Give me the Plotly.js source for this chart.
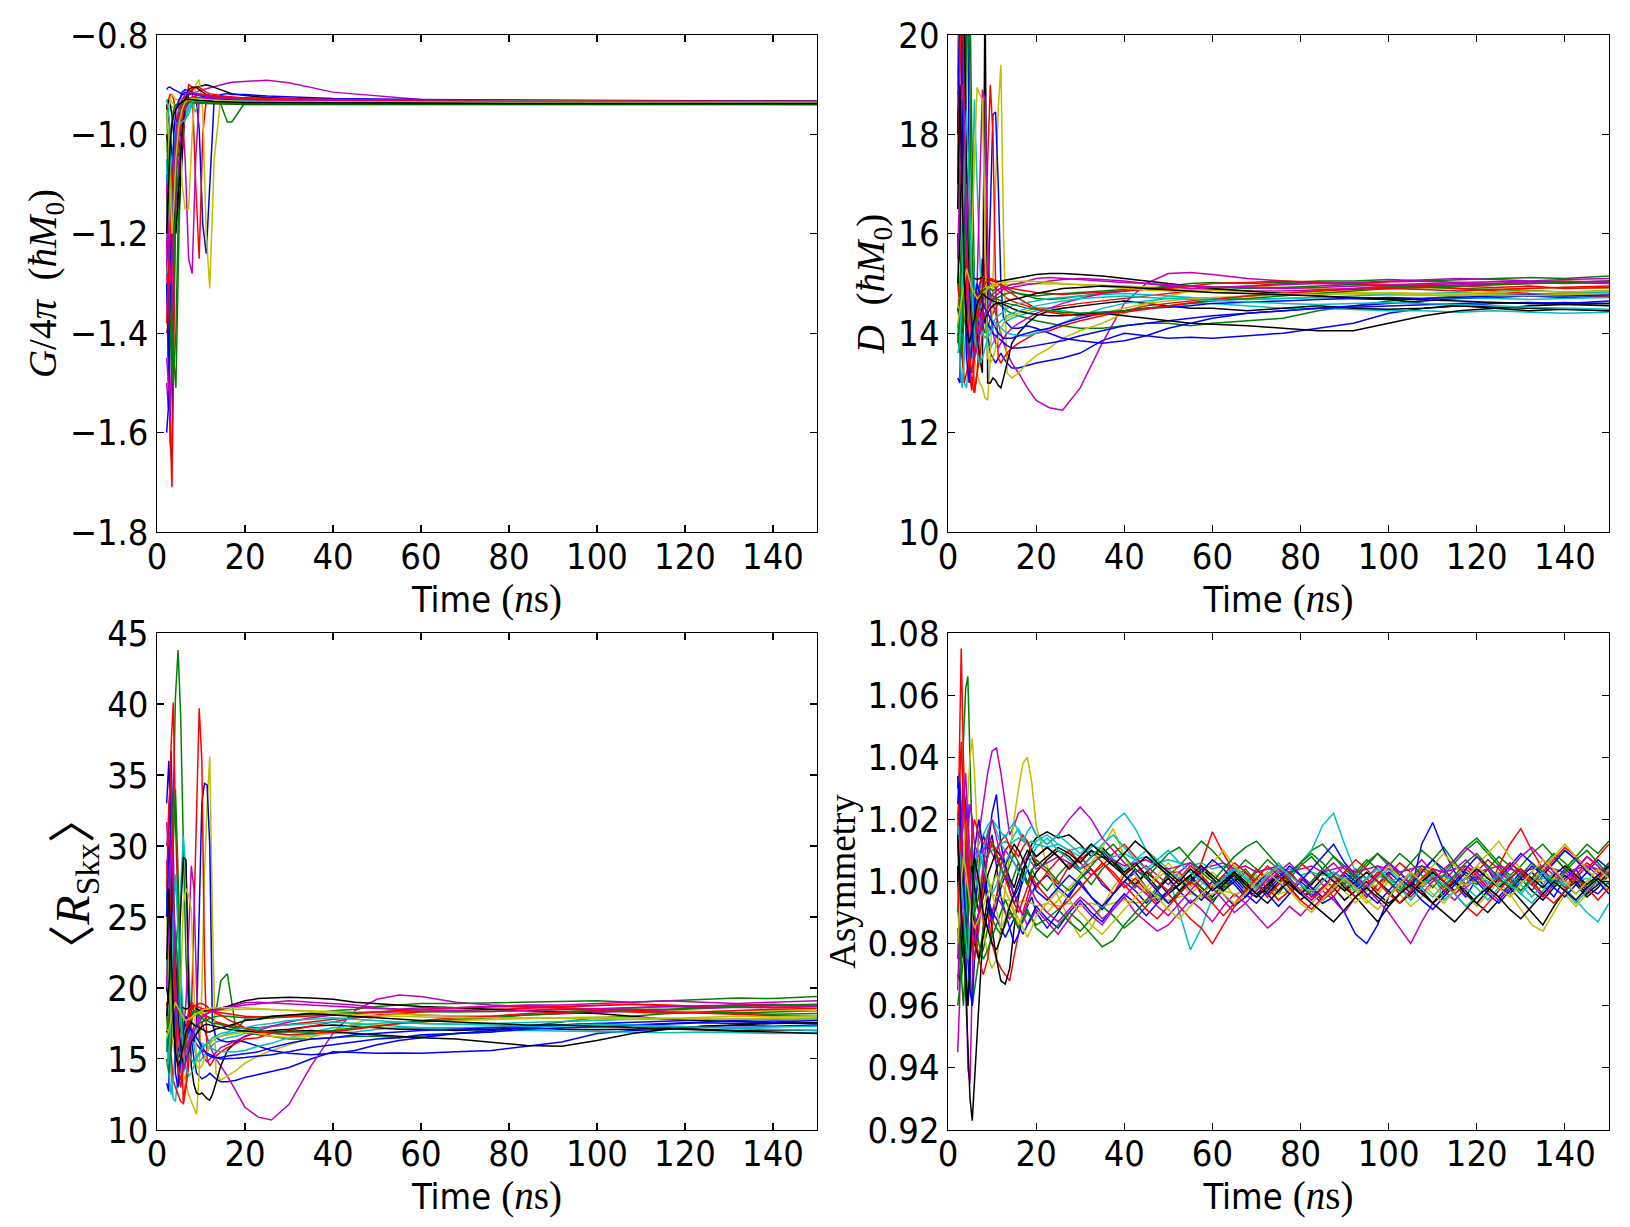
<!DOCTYPE html>
<html>
<head>
<meta charset="utf-8">
<script src="https://cdn.plot.ly/plotly-3.0.1.min.js"></script>
<style>html,body{margin:0;padding:0;background:#fff;}</style>
</head>
<body>
<div id="chart" style="width:1630px;height:1227px;"></div>
<script>
// Run colours cycle in the order b, g, r, c, m, y, k
const runColors = ['#0000ff', '#008000', '#ff0000', '#00bfbf', '#bf00bf', '#bfbf00', '#000000'];

// ---------- Panel 1: G/4pi (hbar M0) ----------
const tG = [2.2,2.6,3,3.4,3.8,4.3,5,5.7,6.4,7.2,8,8.8,9.6,10.4,11.2,12,13,14.4,16,17,20,25,30,40,60,80,100,120,150];
const G1 = [-1.08,-1.40,-1.62,-1.66,-1.30,-1.02,-0.94,-0.915,-0.91,-0.912,-0.915,-0.918,-0.92,-0.922,-0.924,-0.925,-0.926,-0.927,-0.928,-0.929,-0.93,-0.93,-0.931,-0.932,-0.933,-0.934,-0.934,-0.935,-0.935];
const G2 = [-0.95,-1.05,-1.20,-1.35,-1.45,-1.51,-1.20,-0.98,-0.94,-0.935,-0.935,-0.936,-0.936,-0.937,-0.937,-0.937,-0.938,-0.938,-0.938,-0.938,-0.938,-0.938,-0.938,-0.938,-0.937,-0.937,-0.936,-0.936,-0.937];
const G3 = [-1.25,-1.38,-1.58,-1.71,-1.45,-1.10,-0.96,-0.93,-0.925,-0.926,-0.928,-0.93,-0.93,-0.931,-0.931,-0.932,-0.932,-0.933,-0.933,-0.934,-0.934,-0.935,-0.935,-0.935,-0.936,-0.936,-0.936,-0.937,-0.937];
const G4 = [-1.05,-1.20,-1.22,-1.14,-1.05,-1.01,-0.99,-0.98,-0.96,-0.945,-0.94,-0.935,-0.932,-0.93,-0.93,-0.93,-0.93,-0.931,-0.931,-0.932,-0.932,-0.932,-0.933,-0.933,-0.934,-0.934,-0.935,-0.935,-0.936];
const G5 = [-1.20,-1.50,-1.58,-1.40,-1.15,-1.00,-0.95,-0.93,-0.925,-0.92,-0.918,-0.915,-0.912,-0.91,-0.908,-0.906,-0.903,-0.90,-0.897,-0.895,-0.893,-0.891,-0.896,-0.915,-0.93,-0.935,-0.937,-0.938,-0.94];
const G6 = [-0.93,-0.935,-0.94,-0.945,-0.945,-0.94,-0.935,-0.933,-0.932,-0.932,-0.933,-0.933,-0.934,-0.934,-0.934,-0.935,-0.935,-0.935,-0.935,-0.935,-0.936,-0.936,-0.936,-0.936,-0.936,-0.937,-0.937,-0.937,-0.937];
const G7 = [-0.94,-0.96,-1.00,-1.05,-1.08,-1.10,-1.15,-1.05,-0.95,-0.92,-0.91,-0.905,-0.903,-0.902,-0.90,-0.902,-0.906,-0.91,-0.915,-0.918,-0.922,-0.926,-0.928,-0.931,-0.933,-0.935,-0.936,-0.937,-0.938];
const G8 = [-0.91,-0.905,-0.905,-0.908,-0.91,-0.912,-0.915,-0.92,-0.92,-0.92,-0.915,-0.92,-0.99,-1.18,-1.24,-1.10,-0.93,-0.92,-0.918,-0.92,-0.92,-0.923,-0.925,-0.928,-0.93,-0.931,-0.932,-0.932,-0.933];
const G9 = [-1.00,-1.10,-1.25,-1.40,-1.48,-1.40,-1.10,-0.96,-0.94,-0.935,-0.932,-0.93,-0.93,-0.93,-0.93,-0.932,-0.935,-0.937,-0.975,-0.975,-0.936,-0.933,-0.933,-0.934,-0.935,-0.936,-0.936,-0.937,-0.937];
const G10 = [-0.95,-0.93,-0.92,-0.92,-0.93,-0.96,-1.02,-1.02,-0.96,-0.90,-0.905,-1.10,-1.25,-1.00,-0.93,-0.925,-0.925,-0.926,-0.927,-0.928,-0.929,-0.93,-0.93,-0.931,-0.932,-0.933,-0.933,-0.934,-0.934];
const G11 = [-1.28,-1.25,-1.20,-1.15,-1.10,-1.05,-1.00,-0.985,-0.97,-0.96,-0.94,-0.955,-0.93,-0.928,-0.928,-0.929,-0.93,-0.93,-0.931,-0.931,-0.932,-0.932,-0.933,-0.933,-0.934,-0.934,-0.935,-0.935,-0.935];
const G12 = [-1.50,-1.55,-1.40,-1.20,-1.10,-1.00,-0.96,-0.95,-1.05,-1.25,-1.28,-1.05,-0.93,-0.925,-0.922,-0.922,-0.924,-0.925,-0.926,-0.927,-0.928,-0.93,-0.931,-0.932,-0.933,-0.934,-0.935,-0.936,-0.936];
const G13 = [-0.93,-0.93,-0.93,-0.935,-0.94,-0.94,-0.94,-1.10,-1.15,-1.15,-1.00,-0.90,-0.89,-0.95,-1.20,-1.31,-1.05,-0.935,-0.93,-0.93,-0.931,-0.932,-0.932,-0.933,-0.934,-0.935,-0.935,-0.936,-0.936];
const G14 = [-0.95,-0.93,-0.94,-0.96,-1.00,-1.05,-1.04,-0.98,-0.95,-0.935,-0.935,-0.936,-0.937,-0.937,-0.938,-0.938,-0.938,-0.939,-0.939,-0.939,-0.94,-0.94,-0.94,-0.94,-0.94,-0.94,-0.94,-0.94,-0.94];
const G15 = [-1.60,-1.55,-1.30,-1.10,-1.02,-0.98,-0.96,-0.95,-0.93,-0.92,-0.918,-0.918,-0.919,-0.92,-0.921,-0.922,-0.923,-0.924,-0.925,-0.926,-0.927,-0.928,-0.929,-0.93,-0.931,-0.932,-0.933,-0.933,-0.934];
const G16 = [-1.15,-1.10,-1.00,-0.97,-0.95,-0.94,-0.938,-0.937,-0.936,-0.936,-0.936,-0.936,-0.937,-0.937,-0.937,-0.937,-0.937,-0.937,-0.937,-0.937,-0.937,-0.937,-0.937,-0.937,-0.937,-0.937,-0.937,-0.937,-0.937];
const G17 = [-1.40,-1.38,-1.42,-1.25,-1.15,-1.08,-1.00,-0.95,-0.93,-0.915,-0.91,-0.905,-0.905,-0.91,-0.915,-0.918,-0.92,-0.922,-0.924,-0.925,-0.927,-0.928,-0.929,-0.93,-0.931,-0.932,-0.933,-0.933,-0.934];
const G18 = [-1.20,-1.22,-1.10,-1.05,-1.02,-0.98,-0.97,-0.96,-0.95,-0.94,-0.93,-0.928,-0.927,-0.927,-0.928,-0.928,-0.929,-0.929,-0.93,-0.93,-0.931,-0.931,-0.932,-0.932,-0.933,-0.933,-0.934,-0.934,-0.935];
const G19 = [-1.45,-1.50,-1.55,-1.48,-1.30,-1.15,-1.05,-0.98,-0.95,-0.93,-0.925,-0.925,-0.926,-0.927,-0.927,-0.928,-0.928,-0.929,-0.929,-0.93,-0.93,-0.931,-0.931,-0.932,-0.933,-0.934,-0.935,-0.936,-0.937];
const G20 = [-0.98,-0.95,-0.93,-0.92,-0.925,-0.93,-0.93,-0.931,-0.931,-0.932,-0.932,-0.932,-0.933,-0.933,-0.933,-0.934,-0.934,-0.934,-0.934,-0.935,-0.935,-0.935,-0.935,-0.935,-0.935,-0.935,-0.935,-0.935,-0.935];
const G21 = [-1.00,-1.02,-1.05,-1.10,-1.15,-1.20,-1.10,-1.00,-0.93,-0.91,-0.905,-0.905,-0.91,-0.915,-0.92,-0.922,-0.925,-0.927,-0.929,-0.93,-0.932,-0.933,-0.934,-0.935,-0.936,-0.937,-0.938,-0.938,-0.939];
const G22 = [-1.30,-1.45,-1.35,-1.15,-1.00,-0.95,-0.93,-0.92,-0.915,-0.915,-0.918,-0.92,-0.922,-0.924,-0.925,-0.926,-0.927,-0.928,-0.929,-0.93,-0.931,-0.932,-0.932,-0.933,-0.934,-0.935,-0.935,-0.936,-0.936];
const G23 = [-1.12,-1.25,-1.40,-1.50,-1.30,-1.10,-0.97,-0.94,-0.935,-0.935,-0.936,-0.936,-0.937,-0.937,-0.937,-0.938,-0.938,-0.938,-0.939,-0.939,-0.939,-0.939,-0.939,-0.939,-0.939,-0.939,-0.939,-0.939,-0.939];
const G24 = [-1.38,-1.30,-1.20,-1.10,-1.05,-1.02,-1.00,-0.97,-0.94,-0.93,-0.925,-0.922,-0.92,-0.92,-0.921,-0.922,-0.923,-0.925,-0.927,-0.928,-0.929,-0.93,-0.931,-0.932,-0.933,-0.934,-0.934,-0.935,-0.935];
const G25 = [-0.93,-0.95,-1.00,-1.20,-1.10,-1.00,-0.98,-0.975,-0.97,-0.95,-0.935,-0.93,-0.93,-0.93,-0.93,-0.931,-0.931,-0.932,-0.932,-0.933,-0.933,-0.934,-0.934,-0.935,-0.935,-0.936,-0.936,-0.936,-0.936];
const G26 = [-1.10,-1.20,-1.30,-1.25,-1.10,-1.00,-0.95,-0.93,-0.92,-0.915,-0.915,-0.918,-0.92,-0.922,-0.924,-0.925,-0.926,-0.927,-0.928,-0.929,-0.93,-0.931,-0.932,-0.933,-0.934,-0.935,-0.936,-0.937,-0.937];
const G27 = [-0.95,-1.00,-1.10,-1.20,-1.15,-1.05,-0.98,-0.95,-0.935,-0.93,-0.928,-0.928,-0.929,-0.93,-0.93,-0.931,-0.932,-0.932,-0.933,-0.933,-0.934,-0.934,-0.935,-0.935,-0.935,-0.936,-0.936,-0.936,-0.936];
const G28 = [-1.20,-1.10,-1.02,-0.98,-0.96,-0.95,-0.94,-0.935,-0.93,-0.93,-0.93,-0.931,-0.932,-0.932,-0.933,-0.933,-0.934,-0.934,-0.935,-0.935,-0.936,-0.936,-0.937,-0.937,-0.937,-0.938,-0.938,-0.938,-0.938];

// ---------- Panels 2 and 3: D (hbar M0) and <R_Skx> share one time grid ----------
const tD = [2.2,2.7,3.2,3.7,4.2,4.8,5.4,6,6.6,7.2,7.8,8.4,9,9.6,10.2,10.8,11.4,12,12.6,13.4,14.5,
            16,18,20,23,26,30,35,40,45,50,55,60,
            68,76,84,92,100,108,116,124,132,140,150];

const D1 = [13.1,13.0,16.0,22.0,24.0,17.0,15.0,14.2,13.8,14.5,15.5,14.8,14.0,13.6,13.5,13.4,13.5,13.6,13.5,13.4,13.3,
            13.3,13.35,13.4,13.45,13.5,13.6,13.85,14.0,13.95,13.9,13.92,13.9,
            13.95,14.0,14.1,14.2,14.4,14.5,14.55,14.6,14.62,14.6,14.65];
const D2 = [19.0,22.0,24.0,21.0,17.0,14.5,13.5,14.0,15.0,14.6,14.2,14.0,14.1,14.3,14.4,14.5,14.6,14.55,14.5,14.45,14.4,
            14.35,14.3,14.25,14.2,14.15,14.1,14.1,14.15,14.2,14.2,14.15,14.2,
            14.25,14.3,14.45,14.55,14.65,14.7,14.75,14.8,14.78,14.8,14.82];
const D3 = [18.5,16.0,14.0,15.0,17.0,15.5,14.0,12.8,13.2,14.0,14.8,15.1,15.05,15.0,14.95,14.9,14.85,14.8,14.75,14.7,14.65,
            14.6,14.55,14.5,14.5,14.55,14.6,14.65,14.7,14.75,14.8,14.85,14.9,
            14.95,15.0,15.02,15.0,15.03,15.05,15.02,15.0,15.03,15.05,15.02];
const D4 = [19.2,17.0,14.0,13.0,12.9,13.5,16.5,18.7,17.0,15.5,14.5,14.2,13.8,13.7,13.8,13.9,14.0,14.1,14.2,14.25,14.3,
            14.35,14.4,14.45,14.5,14.45,14.4,14.4,14.45,14.5,14.55,14.6,14.6,
            14.55,14.5,14.5,14.48,14.45,14.45,14.42,14.45,14.43,14.4,14.42];
const D5 = [20.5,22.0,18.0,16.0,15.2,14.5,14.0,13.8,14.5,15.0,15.2,15.1,15.0,14.8,14.6,14.4,14.2,14.0,13.8,13.6,13.4,
            13.2,12.9,12.65,12.5,12.45,12.9,13.8,14.6,15.0,15.2,15.22,15.18,
            15.1,15.05,15.0,14.98,14.95,14.97,15.0,14.98,15.0,15.02,15.0];
const D6 = [14.5,15.0,16.0,17.5,16.0,15.0,14.0,13.5,13.2,13.0,12.9,12.7,12.65,13.5,15.0,17.0,18.5,19.4,16.0,13.2,13.1,
            13.2,13.4,13.55,13.7,13.9,14.05,14.2,14.4,14.6,14.75,14.85,14.9,
            14.95,14.92,14.9,14.88,14.9,14.92,14.9,14.88,14.9,14.92,14.9];
const D7 = [14.5,14.2,14.0,14.3,14.8,15.0,14.8,14.5,14.0,13.5,13.2,21.0,13.0,13.0,13.1,13.05,12.95,12.9,13.1,13.4,13.8,
            14.0,14.2,14.35,14.45,14.5,14.55,14.6,14.65,14.6,14.55,14.5,14.5,
            14.45,14.5,14.55,14.5,14.48,14.5,14.55,14.5,14.45,14.48,14.45];
const D8 = [21.0,23.0,19.0,15.0,14.0,13.5,13.8,14.2,14.5,14.4,14.3,14.2,14.5,16.5,18.4,18.45,17.0,15.0,14.3,14.2,14.1,
            14.1,14.15,14.1,14.0,13.9,13.85,13.8,13.85,13.95,14.1,14.2,14.3,
            14.4,14.45,14.5,14.55,14.6,14.65,14.7,14.72,14.75,14.72,14.75];
const D9 = [16.0,14.0,13.5,14.5,20.5,22.0,18.0,15.0,14.5,14.8,14.9,15.0,14.95,14.9,14.85,14.9,14.95,15.0,14.95,14.9,14.85,
            14.8,14.75,14.7,14.68,14.7,14.75,14.8,14.85,14.9,14.95,15.0,15.02,
            15.0,15.02,15.05,15.05,15.08,15.05,15.08,15.1,15.12,15.1,15.15];
const D10 = [15.0,14.5,13.5,13.0,13.2,13.5,13.0,12.8,13.2,13.5,14.0,15.5,17.5,19.0,18.0,15.0,13.5,13.4,13.5,13.6,13.7,
             13.8,13.9,14.0,14.05,14.15,14.25,14.35,14.45,14.55,14.6,14.65,14.7,
             14.75,14.8,14.85,14.9,14.95,14.97,14.95,14.92,14.95,14.9,14.92];
const D11 = [14.2,13.5,12.9,13.5,14.5,15.5,16.0,15.0,14.5,14.2,14.0,13.9,14.0,14.1,14.2,14.3,14.35,14.4,14.45,14.5,14.55,
             14.6,14.62,14.65,14.7,14.72,14.75,14.78,14.8,14.78,14.75,14.72,14.7,
             14.68,14.7,14.72,14.7,14.68,14.7,14.72,14.7,14.68,14.7,14.72];
const D12 = [17.5,18.0,16.0,14.5,15.0,16.0,15.5,14.5,15.0,17.0,18.9,18.7,16.0,14.5,14.0,13.8,13.7,13.8,13.9,14.0,14.1,
             14.2,14.3,14.4,14.5,14.6,14.7,14.8,14.85,14.9,14.92,14.9,14.88,
             14.85,14.85,14.88,14.9,14.92,14.95,14.97,15.0,15.02,15.0,15.02];
const D13 = [14.7,14.72,14.74,14.76,14.78,14.8,14.82,14.84,14.86,14.88,14.9,14.92,14.93,14.94,14.95,14.96,14.97,14.97,14.98,14.98,14.98,
             14.99,15.0,15.0,15.0,14.99,14.98,14.97,14.95,14.93,14.9,14.88,14.86,
             14.84,14.82,14.8,14.78,14.77,14.76,14.76,14.75,14.76,14.75,14.76];
const D14 = [16.0,15.5,15.2,15.1,15.15,15.1,15.12,15.1,15.08,15.1,15.12,15.1,15.08,15.06,15.05,15.05,15.04,15.05,15.06,15.08,15.1,
             15.12,15.15,15.18,15.2,15.2,15.18,15.15,15.1,15.05,15.0,14.95,14.9,
             14.85,14.8,14.75,14.7,14.68,14.6,14.55,14.52,14.5,14.48,14.45];
const D15 = [17.0,20.5,22.0,19.0,14.5,13.5,14.0,14.5,14.8,14.6,14.4,14.3,14.2,14.1,14.0,13.95,13.9,13.85,13.8,13.75,13.7,
             13.7,13.72,13.75,13.8,13.85,13.95,14.05,14.15,14.2,14.25,14.3,14.35,
             14.4,14.45,14.5,14.52,14.55,14.57,14.6,14.62,14.6,14.62,14.6];
const D16 = [13.8,14.5,16.5,19.5,22.0,20.0,16.0,14.0,13.8,14.0,14.2,14.4,14.5,14.6,14.65,14.7,14.72,14.75,14.78,14.8,14.82,
             14.8,14.78,14.75,14.78,14.8,14.82,14.85,14.88,14.9,14.92,14.95,14.93,
             14.9,14.92,14.95,14.98,14.95,14.92,14.9,14.88,14.85,14.83,14.85];
const D17 = [18.8,19.0,17.0,15.0,14.0,13.2,12.85,13.5,14.5,15.0,15.1,15.15,15.1,15.08,15.05,15.03,15.0,14.98,14.95,14.92,14.9,
             14.88,14.85,14.82,14.8,14.78,14.8,14.82,14.85,14.88,14.9,14.95,15.0,
             15.02,15.05,15.03,15.0,14.98,14.95,14.9,14.85,14.8,14.78,14.75];
const D18 = [19.5,22.0,21.0,17.0,15.0,14.0,13.5,13.8,14.2,14.5,14.6,14.5,14.4,14.3,14.25,14.2,14.15,14.1,14.05,14.0,13.98,
             13.95,13.95,14.0,14.1,14.2,14.35,14.5,14.6,14.65,14.7,14.72,14.7,
             14.68,14.7,14.72,14.75,14.78,14.8,14.82,14.8,14.78,14.8,14.82];
const D19 = [22.0,24.0,21.0,18.0,17.5,16.0,15.0,14.3,14.0,14.2,14.4,14.6,14.7,14.75,14.8,14.85,14.88,14.9,14.92,14.95,14.98,
             15.0,15.05,15.1,15.12,15.1,15.08,15.05,15.02,15.0,14.98,14.95,14.93,
             14.92,14.9,14.92,14.95,14.97,15.0,15.02,15.04,15.05,15.03,15.05];
const D20 = [20.5,18.0,16.0,14.5,14.0,14.5,16.0,17.5,18.95,18.8,18.7,16.0,13.5,13.4,13.5,13.7,13.9,14.1,14.2,14.3,14.35,
             14.4,14.45,14.5,14.45,14.4,14.35,14.4,14.5,14.6,14.65,14.7,14.72,
             14.75,14.78,14.8,14.82,14.8,14.78,14.8,14.82,14.85,14.83,14.85];
const D21 = [15.0,16.0,18.0,20.5,17.0,15.0,14.0,13.6,13.8,14.0,14.2,14.3,14.4,14.5,14.55,14.6,14.62,14.6,14.58,14.55,14.5,
             14.45,14.4,14.38,14.35,14.35,14.38,14.4,14.35,14.3,14.25,14.2,14.18,
             14.15,14.1,14.05,14.05,14.2,14.35,14.45,14.5,14.55,14.58,14.6];
const D22 = [18.0,21.0,20.0,16.0,13.5,13.0,13.8,14.6,15.0,14.8,14.6,14.5,14.4,14.3,14.2,14.1,14.0,13.95,13.9,13.9,13.9,
             13.95,14.0,14.05,14.1,14.2,14.3,14.4,14.45,14.5,14.52,14.55,14.6,
             14.62,14.65,14.68,14.7,14.72,14.7,14.72,14.75,14.78,14.75,14.78];
const D23 = [14.0,13.6,14.2,15.5,17.0,15.8,14.5,14.0,14.3,14.6,14.8,14.9,14.85,14.8,14.75,14.7,14.68,14.65,14.62,14.6,14.58,
             14.55,14.5,14.48,14.45,14.42,14.4,14.42,14.45,14.5,14.55,14.6,14.65,
             14.7,14.75,14.8,14.85,14.9,14.92,14.95,14.97,15.0,15.02,15.05];
const D24 = [17.0,20.5,21.5,18.0,15.0,13.6,13.2,13.6,14.2,14.6,14.9,15.0,15.05,15.1,15.08,15.05,15.0,14.95,14.9,14.85,14.8,
             14.7,14.6,14.5,14.42,14.38,14.35,14.38,14.42,14.48,14.55,14.62,14.68,
             14.75,14.8,14.85,14.88,14.9,14.88,14.85,14.88,14.9,14.92,14.95];
const D25 = [13.6,13.8,15.0,17.5,18.5,17.0,15.0,14.0,13.6,13.4,13.5,13.7,13.9,14.0,14.1,14.15,14.2,14.25,14.3,14.35,14.4,
             14.45,14.5,14.55,14.6,14.65,14.7,14.72,14.75,14.72,14.7,14.68,14.65,
             14.62,14.6,14.58,14.6,14.62,14.6,14.58,14.55,14.52,14.5,14.48];
const D26 = [15.5,17.5,19.0,18.5,16.0,14.5,13.8,13.5,13.7,14.0,14.2,14.4,14.5,14.6,14.7,14.75,14.8,14.85,14.88,14.9,14.92,
             14.95,14.98,15.0,15.05,15.08,15.1,15.08,15.05,15.0,14.95,14.9,14.92,
             14.95,14.98,15.0,15.02,15.05,15.08,15.1,15.08,15.05,15.08,15.1];
const D27 = [14.2,14.5,14.8,15.0,15.3,15.1,14.9,14.8,14.7,14.75,14.8,14.85,14.9,14.95,14.98,15.0,15.0,15.02,15.03,15.03,15.04,
             15.05,15.05,15.04,15.02,15.0,14.97,14.94,14.9,14.87,14.85,14.83,14.82,
             14.8,14.79,14.78,14.8,14.82,14.8,14.78,14.77,14.76,14.78,14.8];
const D28 = [16.5,19.0,17.0,15.0,14.2,13.8,14.0,14.3,14.6,14.7,14.8,14.75,14.7,14.68,14.65,14.62,14.6,14.6,14.62,14.65,14.68,
             14.7,14.75,14.8,14.85,14.9,14.92,14.95,14.93,14.9,14.88,14.85,14.82,
             14.8,14.78,14.75,14.72,14.7,14.68,14.65,14.62,14.6,14.58,14.55];

const R1 = [13.3,12.7,36.7,30.0,20.0,17.0,15.0,14.0,15.5,18.0,16.5,15.0,14.0,13.8,13.6,13.7,13.8,14.0,13.8,13.6,13.4,
            13.4,13.5,13.7,13.9,14.1,14.4,15.0,15.5,15.45,15.4,15.42,15.4,
            15.5,15.6,15.9,16.2,16.8,17.0,17.1,17.3,17.35,17.3,17.4];
const R2 = [20.0,23.0,26.0,33.0,40.5,43.8,39.0,30.0,22.0,18.5,17.0,16.5,16.8,17.3,17.5,17.8,18.0,17.9,17.8,17.6,17.5,
            17.3,17.1,16.9,16.7,16.6,16.4,16.4,16.5,16.6,16.6,16.5,16.6,
            16.8,16.9,17.3,17.6,17.9,18.0,18.2,18.3,18.25,18.3,18.4];
const R3 = [25.0,30.0,37.0,40.1,32.0,24.0,18.0,11.8,13.5,15.5,17.5,18.5,18.4,18.3,18.2,18.1,18.0,17.9,17.8,17.6,17.5,
            17.4,17.3,17.2,17.2,17.3,17.4,17.6,17.8,17.9,18.1,18.2,18.4,
            18.5,18.7,18.75,18.7,18.8,18.85,18.75,18.7,18.8,18.85,18.75];
const R4 = [22.0,18.0,14.0,12.2,12.0,14.0,27.0,30.7,28.0,22.0,17.0,16.0,15.0,14.8,15.0,15.3,15.5,15.8,16.0,16.2,16.3,
            16.5,16.6,16.8,16.9,16.8,16.7,16.7,16.8,16.9,17.1,17.2,17.2,
            17.1,17.0,17.0,16.95,16.9,16.9,16.85,16.9,16.85,16.8,16.85];
const R5 = [31.7,29.0,24.0,20.0,18.5,17.0,16.0,15.5,16.5,18.0,19.0,18.8,18.4,18.0,17.5,17.0,16.5,16.0,15.5,15.0,14.5,
            13.8,12.7,11.6,10.9,10.7,11.8,14.5,16.8,18.4,19.2,19.5,19.4,
            19.0,18.8,18.7,18.6,18.5,18.6,18.7,18.6,18.7,18.8,18.7];
const R6 = [17.0,18.0,20.0,23.0,20.0,17.5,15.0,14.0,13.2,12.5,12.0,11.5,11.1,14.0,20.0,28.0,33.0,36.3,25.0,14.0,13.5,
            13.8,14.2,14.7,15.2,15.6,16.0,16.5,17.0,17.5,18.0,18.3,18.4,
            18.5,18.45,18.4,18.35,18.4,18.45,18.4,18.35,18.4,18.45,18.4];
const R7 = [17.0,16.5,16.0,16.5,18.0,22.0,26.0,29.2,29.0,20.0,14.5,13.2,12.6,12.5,12.6,12.4,12.2,12.1,12.5,13.3,14.5,
            15.6,16.2,16.6,16.9,17.0,17.1,17.3,17.4,17.3,17.2,17.1,17.1,
            17.0,17.1,17.2,17.1,17.05,17.1,17.2,17.1,17.0,17.05,17.0];
const R8 = [26.0,30.0,24.0,18.0,16.0,15.0,15.5,16.5,17.0,16.8,16.5,16.3,17.5,25.0,33.0,34.4,34.3,30.0,17.5,16.5,16.3,
            16.2,16.3,16.2,15.9,15.6,15.4,15.3,15.4,15.6,16.0,16.3,16.5,
            16.8,17.0,17.2,17.4,17.5,17.6,17.7,17.75,17.8,17.75,17.8];
const R9 = [18.0,16.0,15.5,17.5,22.0,25.0,20.0,17.0,16.5,17.5,18.0,18.5,18.4,18.3,18.2,18.3,18.4,18.5,18.4,18.3,20.5,
            21.0,17.0,17.8,17.8,17.9,18.0,18.2,18.4,18.5,18.7,18.8,18.9,
            18.9,18.95,19.0,19.05,19.1,19.0,19.1,19.2,19.3,19.25,19.4];
const R10 = [19.0,17.0,15.0,13.5,13.0,12.5,12.0,11.9,13.0,14.5,18.0,25.0,33.0,39.7,36.0,22.0,15.0,14.5,14.8,15.2,15.5,
             15.8,16.1,16.4,16.5,16.8,17.0,17.3,17.6,17.9,18.0,18.2,18.3,
             18.4,18.5,18.6,18.7,18.8,18.85,18.8,18.7,18.8,18.65,18.7];
const R11 = [16.5,14.0,12.5,13.5,16.0,19.0,21.0,18.0,16.5,15.5,15.0,14.7,15.0,15.3,15.6,15.9,16.0,16.2,16.3,16.5,16.6,
             16.8,16.9,17.0,17.2,17.3,17.4,17.5,17.6,17.5,17.4,17.3,17.2,
             17.2,17.25,17.3,17.25,17.2,17.25,17.3,17.25,17.2,17.25,17.3];
const R12 = [29.0,27.0,22.0,17.0,18.0,20.0,19.0,17.0,19.0,24.0,28.6,27.0,20.0,16.5,15.5,15.0,14.8,15.0,15.2,15.5,15.8,
             16.0,16.3,16.6,17.0,17.3,17.6,17.9,18.1,18.2,18.3,18.2,18.1,
             18.0,18.0,18.1,18.2,18.3,18.4,18.5,18.6,18.65,18.6,18.7];
const R13 = [17.0,17.1,17.2,17.3,17.4,17.5,17.6,17.7,17.8,17.9,18.0,18.1,18.15,18.2,18.25,18.3,18.35,18.38,18.4,18.42,18.44,
             18.46,18.48,18.5,18.5,18.48,18.45,18.4,18.35,18.3,18.2,18.15,18.1,
             18.0,17.95,17.9,17.85,17.8,17.78,17.8,17.77,17.8,17.78,17.8];
const R14 = [20.0,19.0,18.5,18.6,18.7,18.6,18.7,18.6,18.5,18.6,18.7,18.6,18.5,18.45,18.4,18.4,18.35,18.4,18.45,18.5,18.6,
             18.7,18.9,19.1,19.25,19.3,19.35,19.3,19.2,19.0,18.9,18.8,18.7,
             18.6,18.5,18.4,18.3,18.2,18.0,17.8,17.7,17.6,17.55,17.5];
const R15 = [33.0,36.0,30.0,24.0,18.0,15.5,16.0,17.0,17.5,17.0,16.5,16.3,16.0,15.8,15.6,15.5,15.4,15.3,15.2,15.1,15.0,
             15.0,15.05,15.1,15.2,15.3,15.5,15.8,16.0,16.2,16.4,16.5,16.7,
             16.8,16.9,17.1,17.2,17.3,17.4,17.5,17.55,17.5,17.55,17.5];
const R16 = [15.5,17.0,22.0,30.0,34.0,28.0,20.0,16.0,15.5,16.0,16.5,17.0,17.3,17.5,17.6,17.7,17.8,17.85,17.9,18.0,18.05,
             18.0,17.95,17.9,17.95,18.0,18.05,18.1,18.2,18.25,18.3,18.4,18.35,
             18.3,18.35,18.4,18.5,18.4,18.35,18.3,18.25,18.2,18.15,18.2];
const R17 = [28.0,30.0,25.0,19.0,16.0,14.0,13.0,14.5,17.0,18.5,18.7,18.8,18.7,18.6,18.55,18.5,18.45,18.4,18.35,18.3,18.25,
             18.2,18.1,18.0,17.95,17.9,17.95,18.0,18.1,18.2,18.3,18.4,18.5,
             18.6,18.7,18.65,18.6,18.5,18.45,18.3,18.2,18.1,18.05,18.0];
const R18 = [25.0,29.0,28.0,22.0,17.5,15.0,14.0,14.8,15.8,16.6,17.0,16.8,16.5,16.3,16.1,16.0,15.9,15.8,15.7,15.6,15.5,
             15.5,15.5,15.6,15.9,16.1,16.5,16.9,17.2,17.4,17.5,17.6,17.5,
             17.45,17.5,17.55,17.6,17.7,17.8,17.85,17.8,17.75,17.8,17.85];
const R19 = [30.0,31.5,28.0,24.0,22.0,19.0,17.5,16.2,15.8,16.2,16.8,17.3,17.6,17.8,18.0,18.1,18.2,18.3,18.35,18.4,18.5,
             18.6,18.8,18.95,19.0,18.95,18.9,18.8,18.7,18.6,18.55,18.5,18.45,
             18.4,18.35,18.4,18.5,18.55,18.6,18.7,18.75,18.8,18.75,18.8];
const R20 = [25.0,21.0,18.0,16.0,15.0,16.0,20.0,26.0,27.0,26.5,25.5,20.0,14.5,14.3,14.5,15.0,15.5,16.0,16.3,16.5,16.6,
             16.7,16.8,16.9,16.8,16.6,16.5,16.6,16.9,17.2,17.4,17.5,17.6,
             17.7,17.8,17.85,17.9,17.85,17.8,17.85,17.9,18.0,17.95,18.0];
const R21 = [18.0,20.0,24.0,28.0,22.0,18.0,15.5,14.5,15.0,15.5,16.2,16.5,16.8,17.1,17.3,17.4,17.45,17.4,17.35,17.3,17.2,
             17.1,17.0,16.95,16.9,16.9,16.95,17.0,16.9,16.8,16.7,16.6,16.5,
             16.4,16.2,15.95,15.9,16.3,16.8,17.1,17.3,17.4,17.5,17.55];
const R22 = [25.0,30.0,28.0,20.0,14.0,13.0,15.0,17.0,18.0,17.5,17.0,16.8,16.5,16.2,15.9,15.6,15.3,15.2,15.1,15.1,15.1,
             15.2,15.3,15.4,15.5,15.8,16.1,16.4,16.5,16.7,16.8,16.9,17.0,
             17.1,17.2,17.3,17.4,17.5,17.4,17.5,17.6,17.7,17.6,17.7];
const R23 = [15.0,14.0,16.0,20.0,24.0,21.0,17.0,15.5,16.5,17.5,18.0,18.4,18.2,18.1,17.9,17.7,17.7,17.6,17.5,17.5,17.4,
             17.3,17.2,17.1,17.0,16.9,16.9,16.9,17.0,17.2,17.3,17.5,17.6,
             17.8,17.9,18.1,18.2,18.4,18.5,18.5,18.6,18.7,18.8,18.85];
const R24 = [27.0,33.0,35.0,26.0,18.0,14.5,13.5,14.5,16.3,17.5,18.4,18.7,18.8,18.9,18.9,18.8,18.7,18.5,18.4,18.2,18.1,
             17.8,17.5,17.2,16.9,16.8,16.7,16.8,16.9,17.1,17.3,17.5,17.7,
             17.9,18.0,18.2,18.3,18.4,18.3,18.2,18.3,18.4,18.5,18.55];
const R25 = [14.5,15.0,18.0,25.0,28.0,24.0,18.0,15.5,14.3,13.8,14.0,14.5,15.2,15.5,15.8,16.0,16.1,16.3,16.5,16.6,16.8,
             16.9,17.1,17.2,17.4,17.5,17.7,17.8,17.9,17.8,17.7,17.6,17.5,
             17.45,17.4,17.3,17.4,17.45,17.4,17.3,17.2,17.15,17.1,17.0];
const R26 = [20.0,25.0,30.0,28.0,21.0,17.0,15.0,14.3,14.8,15.8,16.5,17.0,17.3,17.6,17.9,18.0,18.2,18.3,18.4,18.5,18.5,
             18.6,18.7,18.8,18.9,19.0,19.1,19.0,18.9,18.8,18.6,18.5,18.6,
             18.6,18.7,18.8,18.8,18.9,19.0,19.1,19.0,18.9,19.0,19.1];
const R27 = [16.5,17.0,17.8,18.5,19.0,18.6,18.2,17.9,17.7,17.8,17.9,18.1,18.2,18.3,18.4,18.5,18.5,18.55,18.6,18.6,18.6,
             18.65,18.65,18.6,18.55,18.5,18.4,18.3,18.2,18.1,18.05,18.0,17.95,
             17.9,17.9,17.85,17.9,17.95,17.9,17.85,17.8,17.8,17.85,17.9];
const R28 = [22.0,27.0,23.0,18.0,15.5,14.5,15.0,16.0,16.9,17.3,17.6,17.4,17.3,17.2,17.1,17.0,16.9,16.9,17.0,17.1,17.2,
             17.3,17.5,17.7,17.8,18.0,18.1,18.2,18.1,18.0,17.9,17.8,17.7,
             17.6,17.5,17.4,17.4,17.3,17.2,17.1,17.0,16.95,16.9,16.8];

// ---------- Panel 4: Asymmetry ----------
const tA = [2.2,2.6,3,3.5,4,4.5,5,5.5,6,7,8,9,10,11,12,13,14,15,16,17,18,19,20,
            22.5,25,27.5,30,32.5,35,37.5,40,42.5,45,47.5,50,
            52.5,55,57.5,60,62.5,65,67.5,70,72.5,75,77.5,80,
            82.5,85,87.5,90,92.5,95,97.5,100,102.5,105,107.5,110,
            112.5,115,117.5,120,122.5,125,127.5,130,132.5,135,137.5,140,
            142.5,145,147.5,150];

const A1 = [1.030,1.035,1.020,.995,1.010,1.025,1.000,.985,.990,1.005,1.015,1.010,1.022,1.028,1.012,1.005,1.000,.995,.998,1.003,1.000,.996,.999,
            1.002,.998,.995,1.001,1.004,.999,.996,1.000,1.003,.998,.994,.997,
            .999,1.002,.996,.993,.998,1.001,.997,.995,.999,1.003,1.000,.996,
            .996,.993,.995,.990,.983,.980,.986,.995,.999,1.003,.998,1.001,
            1.002,.999,.995,1.001,1.004,.998,.996,1.000,1.003,.999,.995,1.001,
            1.004,.998,.996,1.000];
const A2 = [.975,.990,1.010,1.045,1.062,1.066,1.040,1.010,.985,.975,.978,.985,.990,.995,1.000,1.004,.998,1.002,1.006,1.003,.999,1.004,1.001,
            .997,1.002,1.006,1.003,.999,1.004,1.007,1.002,.998,1.003,1.006,1.001,
            .997,1.002,1.005,1.001,.998,1.003,1.007,1.004,1.000,.996,1.001,1.005,
            1.008,1.004,1.000,.997,1.002,1.006,1.009,1.005,1.001,.998,1.003,1.007,
            1.011,1.006,1.002,.999,1.004,1.008,1.005,1.001,.997,1.002,1.006,1.010,
            1.007,1.003,1.000,1.004];
const A3 = [1.010,1.048,1.075,1.040,1.010,.990,.975,.985,1.000,1.010,1.005,.990,.980,.975,.972,.970,.968,.976,.983,.990,.995,1.000,.998,
            1.003,.999,1.005,1.008,1.004,1.000,.996,1.002,1.006,1.001,.997,1.003,
            1.003,.999,1.006,1.016,1.009,1.003,.999,1.004,1.001,.997,1.002,1.006,
            1.003,.999,.995,1.000,1.004,1.001,.997,1.002,1.006,1.003,.999,1.004,
            1.003,.999,1.004,1.001,.997,1.005,1.012,1.017,1.010,1.004,1.000,.997,
            1.004,1.008,1.005,1.001];
const A4 = [1.025,1.028,1.022,1.018,1.015,1.010,1.005,1.000,1.008,1.012,1.015,1.018,1.020,1.016,1.012,1.010,1.012,1.015,1.017,1.014,1.012,1.010,1.013,
            1.015,1.012,1.010,1.008,1.011,1.014,1.019,1.022,1.017,1.010,1.005,1.002,
            .990,.978,.985,.995,1.000,1.004,1.001,.998,1.002,1.005,1.001,.997,
            1.000,1.004,1.001,.997,.999,1.003,1.000,.996,.999,1.002,.998,.995,
            .999,1.002,.998,.995,.999,1.003,1.000,.996,.993,.997,1.001,.998,
            .994,.990,.987,.993];
const A5 = [.945,.960,.990,1.010,.985,.940,.935,.970,1.000,1.015,1.025,1.035,1.042,1.043,1.035,1.025,1.015,1.018,1.022,1.023,1.021,1.018,1.015,
            1.012,1.015,1.020,1.024,1.020,1.014,1.010,1.006,1.003,1.005,1.002,.999,
            1.003,1.006,1.002,.998,1.001,1.004,1.001,.997,1.000,1.003,1.006,1.002,
            .999,1.003,1.006,1.002,.998,1.001,1.005,1.002,.998,1.003,1.007,1.003,
            1.000,1.004,1.007,1.003,.999,1.002,1.006,1.003,.999,1.004,1.008,1.004,
            1.001,1.005,1.002,1.006];
const A6 = [1.020,1.015,1.000,1.005,1.015,1.030,1.040,1.046,1.035,1.005,.985,.976,.972,.975,.985,.998,1.010,1.020,1.030,1.038,1.040,1.032,1.018,
            1.005,.995,.988,.982,.985,.992,.998,1.003,1.000,.996,1.001,1.004,
            1.000,.996,.999,1.003,1.000,.995,.998,1.002,.999,.994,.997,1.001,
            .998,.994,.997,1.001,.997,.993,.996,1.000,.996,.992,.995,.999,
            .995,.999,.996,.992,.996,1.000,.996,.991,.986,.984,.990,.996,
            .992,.996,1.000,.997];
const A7 = [.970,.968,.975,.990,.965,.945,.930,.923,.935,.960,.985,.995,.985,.975,.968,.967,.972,.985,.995,1.002,1.008,1.012,1.014,
            1.016,1.014,1.015,1.012,1.008,1.010,1.006,1.002,.999,1.003,1.000,.996,
            .999,1.002,.998,.995,.999,1.003,1.000,.996,.999,1.002,.998,.994,
            .997,1.001,.998,.994,.997,1.000,.996,.993,.996,1.000,.997,.993,
            .996,1.000,.997,.993,.990,.994,.998,1.001,.997,.994,.998,1.002,
            .999,.995,.998,1.002];
const A8 = [1.000,1.010,1.020,1.030,1.025,1.015,1.005,.995,.985,.990,1.000,1.010,1.015,1.005,.995,.990,.985,.980,.983,.988,.992,.995,.990,
            .985,.990,.996,1.000,.995,.991,.996,1.000,.997,.993,.997,1.001,
            .997,.993,.996,1.000,.996,.992,.995,.999,.996,.992,.996,1.000,
            .997,.994,.998,1.002,.999,.995,.999,1.003,1.000,.996,1.012,1.019,
            1.010,1.003,.999,1.002,.998,.995,.999,1.003,1.000,.996,1.000,1.004,
            1.001,.997,1.001,1.005];
const A9 = [.960,.965,.975,.985,.990,.980,.970,.960,.965,.975,.985,.990,.988,.985,.983,.986,.990,.988,.985,.987,.990,.988,.986,
            .988,.991,.987,.984,.988,.992,.989,.985,.988,.992,.996,.993,
            .997,1.001,.998,.994,.997,1.001,1.004,1.000,.996,.999,1.003,1.006,
            1.010,1.012,1.008,1.004,1.001,1.005,1.009,1.006,1.002,1.006,1.010,1.007,
            1.003,1.007,1.011,1.014,1.010,1.006,1.002,1.005,1.009,1.012,1.008,1.004,
            1.008,1.012,1.009,1.013];
const A10 = [1.005,.998,.990,.985,.980,.990,1.000,.995,.985,.975,.970,.975,.985,.995,1.005,1.010,1.012,1.010,1.008,1.011,1.013,1.010,1.008,
             1.011,1.008,1.004,1.007,1.010,1.006,1.002,.998,1.001,.997,.993,.996,
             .992,.988,.985,.980,.986,.992,.997,1.001,.998,.994,.997,1.001,
             .998,.994,.997,1.001,.998,.995,.999,1.002,.998,.995,.999,1.003,
             1.000,.996,.999,1.003,1.007,1.004,1.000,.997,1.001,1.005,1.002,.998,
             1.002,1.006,1.003,.999];
const A11 = [1.000,1.005,1.010,1.012,1.015,1.013,1.010,1.008,1.006,1.005,1.007,1.009,1.010,1.011,1.012,1.013,1.012,1.013,1.014,1.013,1.012,1.013,1.012,
             1.011,1.012,1.010,1.011,1.009,1.010,1.008,1.009,1.007,1.008,1.006,1.007,
             1.006,1.005,1.006,1.004,1.005,1.004,1.005,1.003,1.004,1.003,1.004,1.002,
             1.003,1.002,1.003,1.001,1.002,1.001,1.002,1.000,1.001,1.002,1.000,1.001,
             1.002,1.000,1.001,1.002,1.000,.999,1.001,1.000,.999,1.001,1.000,.999,
             1.000,1.001,.999,1.000];
const A12 = [1.020,1.030,1.015,.990,.975,.985,1.000,1.010,1.005,.995,.988,.985,.990,.995,.993,.990,.988,.990,.992,.989,.986,.988,.991,
             .987,.983,.988,.993,.989,.986,.991,.995,.990,.987,.984,.986,
             .990,.994,.991,.987,.992,.996,.993,.989,.985,.988,.992,.989,
             .993,.997,.994,.990,.995,.998,.994,.990,.985,.980,.987,.993,
             .997,.994,.998,1.001,.997,.994,.998,1.002,.999,.995,.999,1.003,
             1.000,.996,1.001,1.004];
const A13 = [.995,.996,.997,.998,.999,1.000,1.000,1.001,1.000,.999,.998,.997,.996,.995,.995,.994,.994,.993,.993,.994,.993,.993,.992,
             .993,.992,.993,.992,.993,.992,.993,.994,.993,.994,.995,.994,
             .995,.996,.995,.996,.997,.996,.997,.998,.997,.996,.997,.998,
             .997,.998,.999,.998,.997,.998,.999,1.000,.999,.998,.999,1.000,
             1.001,1.000,.999,1.000,1.001,1.000,.999,1.000,1.001,1.000,1.001,1.000,
             .999,1.000,1.001,1.000];
const A14 = [1.005,.990,.980,.975,.985,1.000,1.010,.995,.980,.975,.982,.990,.998,1.004,1.008,1.005,1.001,.998,1.003,1.007,1.004,1.000,1.003,
             1.007,1.010,1.008,1.004,1.008,1.011,1.007,1.003,1.006,1.002,.998,1.001,
             .997,1.000,1.004,1.001,.997,1.000,1.003,.999,.996,1.000,1.003,.999,
             .995,.998,1.002,.998,.995,.991,.987,.992,.996,1.000,.997,.993,
             .997,1.000,.996,.993,.997,1.001,.998,.994,.990,.986,.992,.997,
             1.000,.996,.999,1.003];
const A15 = [1.034,1.020,1.005,.990,.975,.960,.970,.990,1.010,1.020,1.010,.995,.990,.988,.985,.982,.985,.988,.986,.983,.986,.989,.992,
             .988,.985,.990,.994,.990,.987,.992,.996,.993,.989,.993,.997,
             1.001,.997,.994,.998,1.002,.999,.995,.999,1.003,1.000,.996,1.000,
             1.004,1.008,1.012,1.006,1.002,.998,1.002,1.006,1.003,.999,1.003,1.007,
             1.004,1.000,1.004,1.008,1.005,1.001,1.005,1.009,1.006,1.002,1.006,1.010,
             1.007,1.003,1.007,1.004];
const A16 = [.985,.975,.968,.975,.990,1.005,1.010,1.000,.990,.980,.975,.978,.982,.986,.990,.994,.991,.988,.985,.988,.991,.988,.985,
             .982,.986,.990,.987,.983,.979,.981,.986,.990,.994,.998,1.002,
             1.005,1.009,1.013,1.010,1.006,1.002,.999,1.003,1.007,1.004,1.000,.996,
             1.000,1.004,1.008,1.005,1.001,.997,1.001,1.005,1.009,1.006,1.002,.998,
             1.002,1.006,1.010,1.013,1.009,1.005,1.001,.997,1.001,1.005,1.009,1.006,
             1.002,.998,1.002,1.006];
const A17 = [1.015,1.030,1.045,1.025,1.010,1.000,1.005,1.015,1.020,1.015,1.012,1.015,1.012,1.010,1.013,1.015,1.011,1.008,1.012,1.015,1.013,1.010,1.006,
             1.003,1.007,1.010,1.006,1.002,1.005,1.009,1.012,1.008,1.004,1.000,.997,
             1.001,1.005,1.002,.998,1.002,1.006,1.003,.999,.995,.999,1.003,.999,
             .995,.998,1.002,.999,.995,.999,1.003,1.000,.996,1.000,1.004,1.001,
             .997,1.001,1.005,1.002,.998,1.002,1.006,1.003,.999,1.003,1.007,1.011,
             1.008,1.004,1.008,1.012];
const A18 = [.990,1.000,1.010,1.005,.995,.985,.980,.988,.996,1.003,1.010,1.016,1.020,1.018,1.016,1.014,1.017,1.019,1.016,1.013,1.016,1.018,1.015,
             1.012,1.015,1.012,1.009,1.012,1.010,1.007,1.004,1.007,1.010,1.007,1.004,
             1.001,1.004,1.001,.998,1.001,1.005,1.002,.998,1.002,1.006,1.002,1.006,
             1.010,1.018,1.022,1.012,1.003,.998,1.001,1.004,1.000,.997,1.000,1.004,
             .994,.997,1.001,.998,.994,.998,1.002,.999,.995,.999,1.003,.999,
             .996,1.000,1.004,1.001];
const A19 = [1.010,1.000,.990,.995,1.005,1.015,1.025,1.020,1.012,1.008,1.010,1.012,1.009,1.006,1.008,1.010,1.008,1.006,1.004,1.006,1.008,1.006,1.004,
             1.006,1.008,1.006,1.004,1.006,1.008,1.007,1.005,1.006,1.007,1.005,1.004,
             1.005,1.006,1.004,1.005,1.006,1.004,1.005,1.003,1.004,1.005,1.003,1.004,
             1.005,1.003,1.004,1.005,1.003,1.004,1.005,1.004,1.003,1.004,1.005,1.004,
             1.003,1.004,1.005,1.003,1.004,1.005,1.004,1.003,1.004,1.005,1.004,1.003,
             1.004,1.005,1.004,1.003];
const A20 = [.990,.985,.995,1.010,1.020,1.015,1.005,.995,.990,.998,1.005,1.002,.996,.990,.985,.988,.993,.990,.986,.989,.993,.997,.994,
             .990,.994,.998,1.002,1.006,1.011,1.017,1.008,1.002,.998,1.002,1.006,
             1.002,.998,1.002,1.006,1.010,1.005,1.001,.997,1.001,1.005,1.001,.997,
             .993,.997,1.001,.997,.993,.997,1.001,1.005,1.001,.997,1.001,1.005,
             1.009,1.005,1.001,1.005,1.009,1.013,1.008,1.004,1.000,1.004,1.008,1.012,
             1.008,1.004,1.000,1.004];
const A21 = [1.000,1.010,1.005,.995,.985,.990,1.000,1.005,.998,.990,.995,1.002,1.006,1.010,1.008,1.005,1.009,1.012,1.010,1.007,1.010,1.008,1.005,
             1.008,1.011,1.009,1.006,1.010,1.008,1.005,1.002,1.005,1.008,1.005,1.002,
             .999,1.002,1.005,1.002,.999,1.002,.998,.995,.998,1.002,.999,.996,
             .999,1.003,1.000,.997,1.000,1.003,1.000,.997,.993,.996,1.000,1.003,
             1.000,.997,1.001,1.004,1.001,.998,1.001,1.004,1.001,.998,1.002,1.005,
             1.002,.999,1.002,1.005];
const A22 = [1.025,1.032,1.015,1.000,.985,.975,.965,.960,.975,.990,1.000,.995,.988,.992,.998,1.002,.997,.993,.996,1.000,1.004,1.001,.997,
             .994,.998,1.002,.999,.995,.992,.996,1.000,1.004,1.001,.997,.993,
             .996,1.000,1.003,1.007,1.004,1.000,.996,.993,.997,1.001,1.005,1.002,
             .998,.995,.999,1.003,1.000,.996,.993,.997,1.001,.998,.994,.991,
             .995,.999,1.003,1.000,.996,.993,.997,1.001,1.005,1.002,.998,.995,
             .999,1.003,1.000,.996];
const A23 = [1.000,.985,.970,.960,.975,.995,1.005,1.000,.990,.995,1.003,1.008,1.012,1.008,1.004,1.001,1.005,1.009,1.006,1.002,.999,1.003,1.007,
             1.004,1.000,.997,1.001,1.005,1.009,1.012,1.008,1.004,1.001,1.005,1.009,
             1.011,1.007,1.003,1.000,1.004,1.008,1.011,1.013,1.009,1.005,1.002,1.006,
             1.009,1.006,1.002,.999,1.003,1.007,1.004,1.000,.997,1.001,1.005,1.002,
             .998,1.002,1.006,1.009,1.005,1.001,.998,1.002,1.006,1.003,.999,1.003,
             1.007,1.010,1.006,1.002];
const A24 = [.990,1.000,1.015,1.030,1.020,1.005,.990,.980,.975,.985,.998,1.008,1.013,1.009,1.005,1.001,.997,.993,.990,.994,.998,1.002,.999,
             .995,.991,.994,.998,1.002,1.006,1.003,.999,.995,.991,.988,.992,
             .996,1.000,.997,.993,.989,.993,.997,1.001,1.005,1.002,.998,.994,
             .991,.995,.999,1.003,1.007,1.004,1.000,.996,.993,.997,1.001,1.004,
             1.000,.996,.992,.989,.993,.997,1.001,1.004,1.000,.996,.993,.997,
             1.001,.998,.994,.998];
const A25 = [1.018,1.010,1.000,.990,.982,.975,.985,.995,1.005,1.010,1.005,1.000,.996,.999,1.003,1.006,1.009,1.006,1.003,1.000,1.004,1.008,1.011,
             1.014,1.010,1.007,1.004,1.008,1.012,1.015,1.011,1.007,1.004,1.007,1.010,
             1.006,1.003,1.000,.997,1.001,1.004,1.001,.998,1.002,1.005,1.002,.999,
             .996,1.000,1.003,1.000,.997,1.001,1.004,1.001,.998,.994,.998,1.002,
             .999,.996,.992,.995,.999,1.002,.999,.996,1.000,1.003,1.000,.997,
             .993,.997,1.001,.998];
const A26 = [.965,.985,1.005,1.025,1.035,1.020,1.000,.985,.980,.990,1.005,1.015,1.020,1.014,1.008,1.004,1.000,.996,.992,.989,.993,.997,.994,
             .990,.987,.991,.995,.992,.988,.991,.995,.999,.996,.992,.989,
             .993,.997,1.001,.998,.994,.990,.993,.997,1.001,1.004,1.001,.997,
             .994,.998,1.002,1.005,1.002,.998,1.002,1.006,1.003,.999,.996,1.000,
             1.004,1.007,1.011,1.008,1.004,1.000,1.004,1.008,1.011,1.007,1.003,1.000,
             1.004,1.008,1.005,1.001];
const A27 = [.980,.990,1.000,1.008,1.004,.998,.992,.988,.985,.988,.992,.996,.999,1.002,1.000,.997,.994,.991,.988,.985,.982,.985,.989,
             .993,.997,.994,.990,.986,.983,.987,.991,.995,.998,.995,.991,
             .988,.992,.996,.999,.996,.993,.996,1.000,1.003,1.000,.997,.993,
             .990,.994,.998,1.001,.998,.994,.991,.995,.999,1.003,1.000,.996,
             .993,.997,1.001,1.005,1.002,.998,.995,.999,1.003,1.007,1.004,1.000,
             .996,1.000,1.004,1.001];
const A28 = [1.015,1.005,.990,.980,.970,.960,.975,.995,1.008,1.000,.990,.985,.980,.978,.982,.987,.992,.996,1.000,1.004,1.007,1.010,1.008,
             1.011,1.008,1.004,1.008,1.012,1.009,1.005,1.009,1.013,1.010,1.006,1.003,
             1.000,1.004,1.001,.997,1.000,1.003,.999,.996,.993,.997,1.000,.996,
             .993,.990,.987,.991,.995,.998,.995,.992,.996,.999,.996,.993,
             .990,.987,.991,.995,.998,.995,.991,.988,.992,.996,1.000,.997,
             .994,.998,1.001,.998];

const gRuns = [G1,G2,G3,G4,G5,G6,G7,G8,G9,G10,G11,G12,G13,G14,G15,G16,G17,G18,G19,G20,G21,G22,G23,G24,G25,G26,G27,G28];
const dRuns = [D1,D2,D3,D4,D5,D6,D7,D8,D9,D10,D11,D12,D13,D14,D15,D16,D17,D18,D19,D20,D21,D22,D23,D24,D25,D26,D27,D28];
const rRuns = [R1,R2,R3,R4,R5,R6,R7,R8,R9,R10,R11,R12,R13,R14,R15,R16,R17,R18,R19,R20,R21,R22,R23,R24,R25,R26,R27,R28];
const aRuns = [A1,A2,A3,A4,A5,A6,A7,A8,A9,A10,A11,A12,A13,A14,A15,A16,A17,A18,A19,A20,A21,A22,A23,A24,A25,A26,A27,A28];

const traces = [];
function addRuns(t, runs, xa, ya) {
  runs.forEach((vals, i) => {
    traces.push({
      type: 'scatter', mode: 'lines', x: t, y: vals, xaxis: xa, yaxis: ya,
      line: {color: runColors[i % runColors.length], width: 1.5},
      hoverinfo: 'skip', showlegend: false
    });
  });
}
addRuns(tG, gRuns, 'x', 'y');
addRuns(tD, dRuns, 'x2', 'y2');
addRuns(tD, rRuns, 'x3', 'y3');
addRuns(tA, aRuns, 'x4', 'y4');

const sansFamily = "'DejaVu Sans Condensed', 'DejaVu Sans', sans-serif";
const serifFamily = "'Liberation Serif', 'DejaVu Serif', serif";
const tickFont = {family: sansFamily, size: 36, color: '#000'};
const mathFont = {family: serifFamily, size: 39, color: '#000'};
const frame = {
  showline: true, linecolor: '#000', linewidth: 1.3, mirror: 'ticks',
  ticks: 'inside', ticklen: 7, tickwidth: 1.1, tickcolor: '#000',
  showgrid: false, zeroline: false, tickfont: tickFont, layer: 'above traces'
};
const timeTitle = {
  text: 'Time <span style="font-family:Liberation Serif;font-size:39px">(<i>n</i>s)</span>',
  font: {family: sansFamily, size: 36, color: '#000'},
  standoff: 6
};
const xTime = Object.assign({}, frame, {range: [0, 150], tick0: 0, dtick: 20, ticklabelstandoff: -8, title: timeTitle});

const colL = [0.0963, 0.5012], colR = [0.5816, 0.9871];
const rowT = [0.5664, 0.9715], rowB = [0.0791, 0.4841];

// <R_Skx> label, set as a rotated annotation beside the lower-left panel
const bracketStyle = 'font-family:Noto Sans CJK JP;font-size:48px';
const skxLabel = {
  text: '<span style="' + bracketStyle + '">〈</span><i>R</i><sub>Skx</sub><span style="' + bracketStyle + '">〉</span>',
  xref: 'paper', yref: 'paper', x: 0.0425, y: 0.28,
  xanchor: 'center', yanchor: 'middle', textangle: -90, showarrow: false,
  font: {family: serifFamily, size: 48, color: '#000'}
};

const layout = {
  width: 1630, height: 1227,
  margin: {l: 0, r: 0, t: 0, b: 0},
  paper_bgcolor: '#fff', plot_bgcolor: '#fff',
  showlegend: false,
  annotations: [skxLabel],
  xaxis:  Object.assign({}, xTime, {domain: colL, anchor: 'y'}),
  xaxis2: Object.assign({}, xTime, {domain: colR, anchor: 'y2'}),
  xaxis3: Object.assign({}, xTime, {domain: colL, anchor: 'y3'}),
  xaxis4: Object.assign({}, xTime, {domain: colR, anchor: 'y4'}),
  yaxis: Object.assign({}, frame, {
    domain: rowT, anchor: 'x', range: [-1.8, -0.8], dtick: 0.2, tick0: -1.8, tickformat: '.1f',
    title: {text: '<i>G</i>/4<i>π</i>\u00a0\u00a0(<i>ħM</i><sub>0</sub>)', font: mathFont, standoff: 0}
  }),
  yaxis2: Object.assign({}, frame, {
    domain: rowT, anchor: 'x2', range: [10, 20], dtick: 2, tick0: 10,
    title: {text: '<i>D</i>\u00a0\u00a0(<i>ħM</i><sub>0</sub>)', font: mathFont, standoff: 1}
  }),
  yaxis3: Object.assign({}, frame, {
    domain: rowB, anchor: 'x3', range: [10, 45], dtick: 5, tick0: 10
  }),
  yaxis4: Object.assign({}, frame, {
    domain: rowB, anchor: 'x4', range: [0.92, 1.08], dtick: 0.02, tick0: 0.92, tickformat: '.2f',
    title: {text: 'Asymmetry', font: {family: serifFamily, size: 37, color: '#000'}, standoff: 0}
  })
};

Plotly.newPlot('chart', traces, layout, {staticPlot: true, displayModeBar: false});
</script>
</body>
</html>
